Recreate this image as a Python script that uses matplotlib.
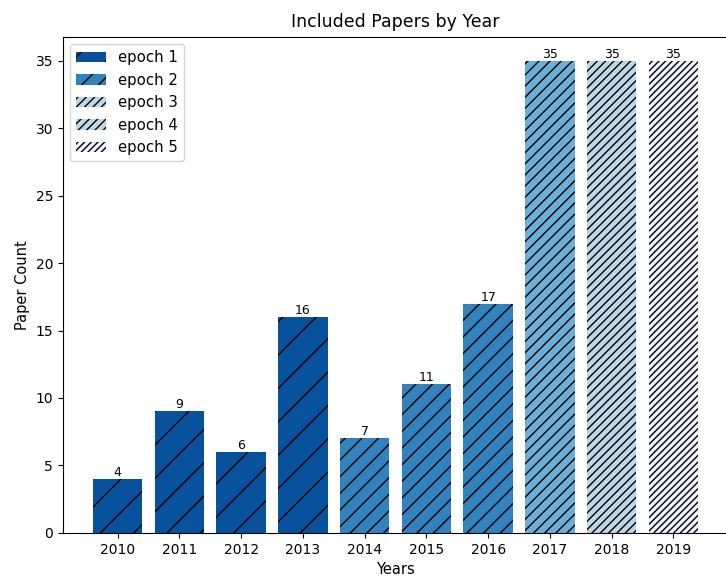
import matplotlib
matplotlib.use("Agg")
import matplotlib.pyplot as plt
from matplotlib.patches import Patch

years = ["2010", "2011", "2012", "2013", "2014", "2015", "2016", "2017", "2018", "2019"]
counts = [4, 9, 6, 16, 7, 11, 17, 35, 35, 35]
epochs = [1, 1, 1, 1, 2, 2, 2, 3, 4, 5]
epoch_labels = ["epoch 1", "epoch 2", "epoch 3", "epoch 4", "epoch 5"]

epoch_colors = {1: "#08519c", 2: "#3182bd", 3: "#6baed6", 4: "#bdd7e7", 5: "#eff3ff"}
epoch_hatch = {1: "/", 2: "//", 3: "///", 4: "////", 5: "/////"}
legend_colors = ["#08519c", "#3182bd", "#bdd7e7", "#bdd7e7", "#eff3ff"]
legend_hatch = ["/", "//", "////", "////", "/////"]

fig = plt.figure(figsize=(7.26, 5.77), dpi=100)
ax = fig.add_axes([0.0864, 0.0763, 0.9168, 0.8597])

x = list(range(len(years)))
bars = ax.bar(x, counts,
              color=[epoch_colors[e] for e in epochs],
              hatch=[epoch_hatch[e] for e in epochs])
ax.bar_label(bars, labels=[str(c) for c in counts], fontsize=9)

ax.set_xticks(x)
ax.set_xticklabels(years)
ax.set_xlabel("Years", fontsize=10.5)
ax.set_ylabel("Paper Count", fontsize=10.5)
ax.set_title("Included Papers by Year", fontsize=12.5, pad=7.5)

handles = [Patch(facecolor=c, hatch=h, label=l)
           for c, h, l in zip(legend_colors, legend_hatch, epoch_labels)]
ax.legend(handles=handles, loc="upper left", fontsize=10.7)

fig.savefig("out.png", dpi=100)
